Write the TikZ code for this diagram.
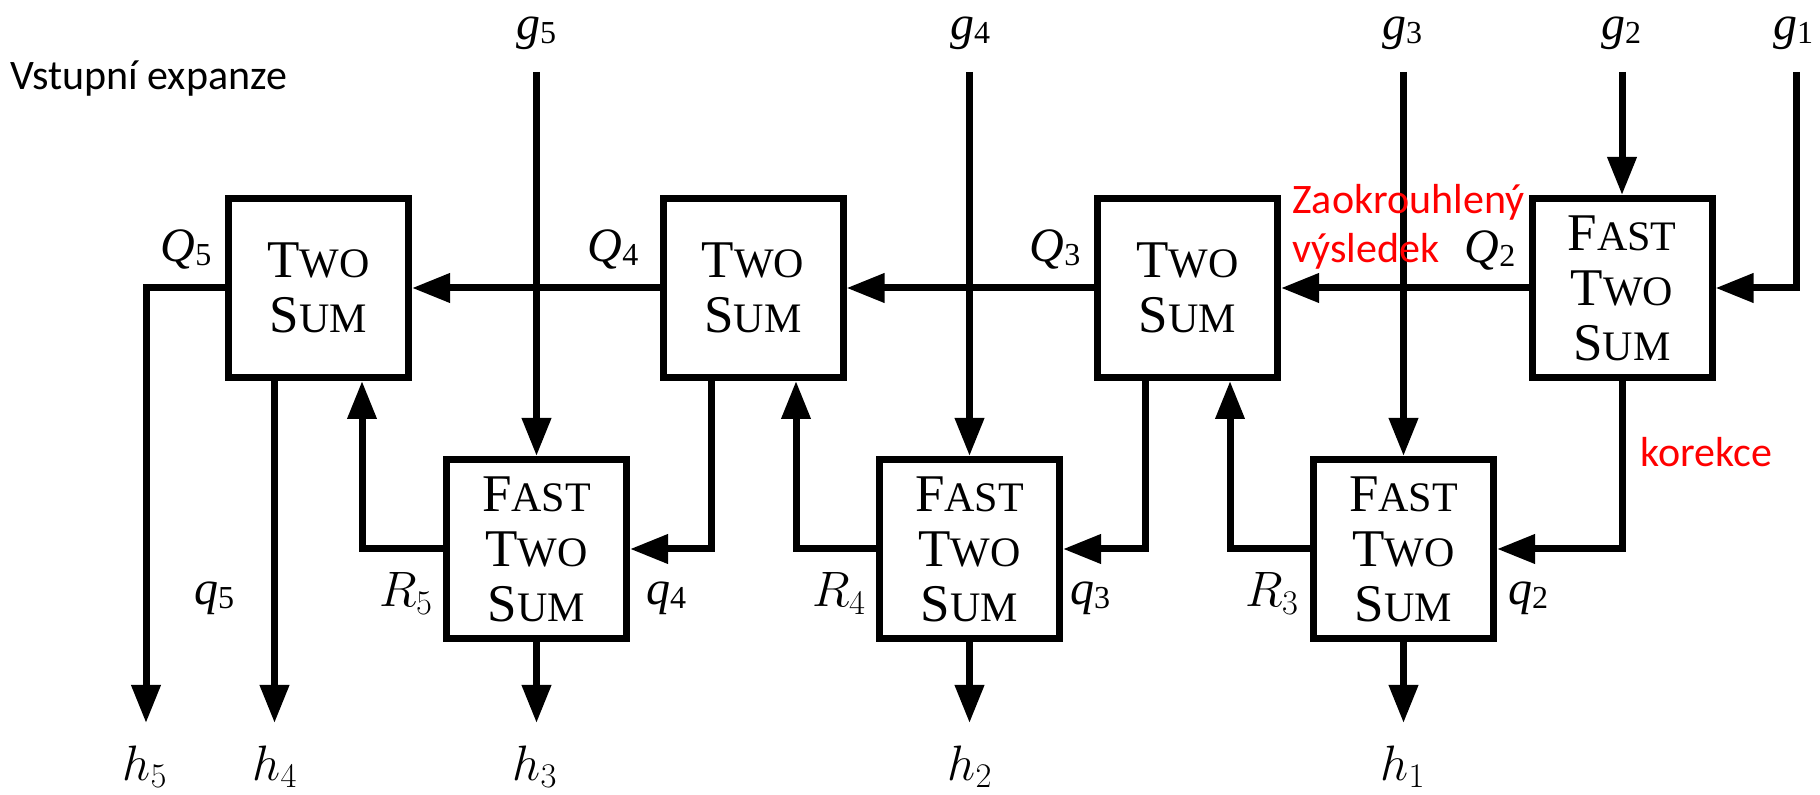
\documentclass[tikz,border=0pt]{standalone}
\usepackage{fontspec}
\usetikzlibrary{arrows.meta,calc}
\newfontfamily\tms{Liberation Serif}
\newfontfamily\calib{Carlito}
\newcommand{\smc}[1]{{\fontsize{21}{27.5}\selectfont #1}}
\newcommand{\tlab}[2]{{\itshape #1\/}\raisebox{-2pt}{\fontsize{16}{18}\selectfont\upshape #2}}
\begin{document}
\begin{tikzpicture}[x=0.5pt,y=-0.5pt,
  box/.style={draw, line width=3.5pt, minimum width=90pt, minimum height=89.5pt,
    inner sep=0pt, align=center, font=\tms\fontsize{26.5}{27.5}\selectfont},
  arr/.style={line width=3.5pt, -{Triangle[length=19pt,width=14pt]}},
  tlabel/.style={font=\tms\fontsize{24}{26}\selectfont, anchor=base, inner sep=0pt},
  mlabel/.style={font=\fontsize{24}{27}\selectfont, anchor=base, inner sep=0pt},
  hlabel/.style={font=\fontsize{24}{27}\selectfont, anchor=base, inner sep=0pt},
  note/.style={font=\calib\fontsize{21}{25}\selectfont, anchor=base west, inner sep=0pt},
  rednote/.style={note, text=red}]
\useasboundingbox (0,0) rectangle (1820,795);

% boxes
\node[box] (TS5) at (318.5,288) {T\smc{WO}\\S\smc{UM}};
\node[box] (TS4) at (753,288) {T\smc{WO}\\S\smc{UM}};
\node[box] (TS3) at (1187.5,288) {T\smc{WO}\\S\smc{UM}};
\node[box] (FTS2) at (1622,288) {F\smc{AST}\\T\smc{WO}\\S\smc{UM}};
\node[box] (FTS5) at (536.5,549) {F\smc{AST}\\T\smc{WO}\\S\smc{UM}};
\node[box] (FTS4) at (969.5,549) {F\smc{AST}\\T\smc{WO}\\S\smc{UM}};
\node[box] (FTS3) at (1403.5,549) {F\smc{AST}\\T\smc{WO}\\S\smc{UM}};

% free ends
\coordinate (g5t) at (536.5,72);
\coordinate (g4t) at (969.5,72);
\coordinate (g3t) at (1403.5,72);
\coordinate (g2t) at (1622,72);
\coordinate (g1t) at (1796,72);
\coordinate (h5e) at (146,723);
\coordinate (h4e) at (274.5,723);
\coordinate (h3e) at (536.5,723);
\coordinate (h2e) at (969.5,723);
\coordinate (h1e) at (1403.5,723);

% connectors
\draw[arr] (g5t) -- (FTS5.north);
\draw[arr] (g4t) -- (FTS4.north);
\draw[arr] (g3t) -- (FTS3.north);
\draw[arr] (g2t) -- (FTS2.north);
\draw[arr] (g1t) |- (FTS2.east);
\draw[arr] (FTS2.west) -- (TS3.east);
\draw[arr] (TS3.west) -- (TS4.east);
\draw[arr] (TS4.west) -- (TS5.east);
\draw[arr] (TS5.west) -| (h5e);
\draw[arr] ($(TS5.south)+(-44,0)$) -- (h4e);
\draw[arr] (FTS5.west) -| ($(TS5.south)+(43.5,0)$);
\draw[arr] ($(TS4.south)+(-42,0)$) |- (FTS5.east);
\draw[arr] (FTS4.west) -| ($(TS4.south)+(43,0)$);
\draw[arr] ($(TS3.south)+(-42,0)$) |- (FTS4.east);
\draw[arr] (FTS3.west) -| ($(TS3.south)+(42.5,0)$);
\draw[arr] (FTS2.south) |- (FTS3.east);
\draw[arr] (FTS5.south) -- (h3e);
\draw[arr] (FTS4.south) -- (h2e);
\draw[arr] (FTS3.south) -- (h1e);

% labels top
\node[tlabel] (lg5) at (536,40) {\tlab{g}{5}};
\node[tlabel] (lg4) at (970,40) {\tlab{g}{4}};
\node[tlabel] (lg3) at (1402,40) {\tlab{g}{3}};
\node[tlabel] (lg2) at (1621,40) {\tlab{g}{2}};
\node[tlabel] (lg1) at (1793,40) {\tlab{g}{1}};
\node[tlabel] (lQ5) at (186,262) {\tlab{Q}{5}};
\node[tlabel] (lQ4) at (613,262) {\tlab{Q}{4}};
\node[tlabel] (lQ3) at (1055,262) {\tlab{Q}{3}};
\node[tlabel] (lQ2) at (1490,263) {\tlab{Q}{2}};
% labels lower
\node[tlabel] (lq5) at (214,605) {\tlab{q}{5}};
\node[tlabel] (lq4) at (666,605) {\tlab{q}{4}};
\node[tlabel] (lq3) at (1090,605) {\tlab{q}{3}};
\node[tlabel] (lq2) at (1528,605) {\tlab{q}{2}};
\node[mlabel] (lR5) at (406,607) {$R_5$};
\node[mlabel] (lR4) at (839,607) {$R_4$};
\node[mlabel] (lR3) at (1272,607) {$R_3$};
\node[hlabel] (lh5) at (145,780) {$h_5$};
\node[hlabel] (lh4) at (275,780) {$h_4$};
\node[hlabel] (lh3) at (535,780) {$h_3$};
\node[hlabel] (lh2) at (970,780) {$h_2$};
\node[hlabel] (lh1) at (1403,780) {$h_1$};

% notes
\node[note] (vst) at (10,90) {Vstupní expanze};
\node[rednote] (zao) at (1292,214) {Zaokrouhlený};
\node[rednote] (vys) at (1292,263) {výsledek};
\node[rednote] (kor) at (1640,467) {korekce};
\end{tikzpicture}
\end{document}
